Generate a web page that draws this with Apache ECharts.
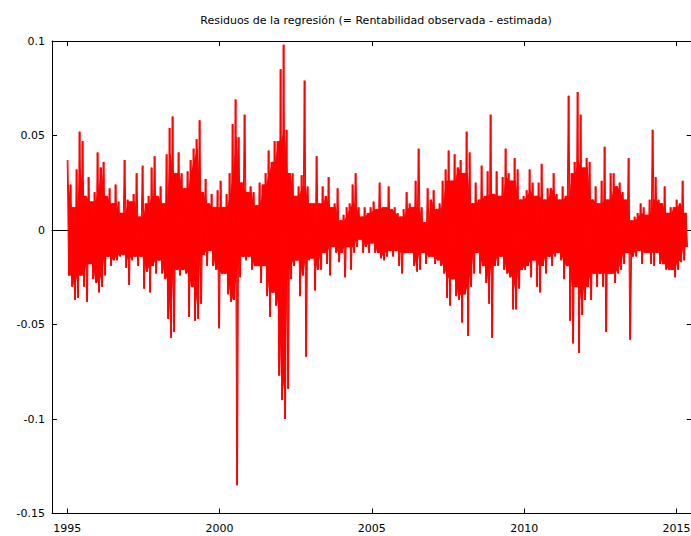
<!DOCTYPE html>
<html><head><meta charset="utf-8">
<script src="https://cdn.jsdelivr.net/npm/echarts@6/dist/echarts.min.js"></script>
<style>html,body{margin:0;padding:0;background:#fff}#c{width:691px;height:536px}</style>
</head><body><div id="c"></div>
<script>
const chartTitle = 'Residuos de la regresión (= Rentabilidad observada - estimada)';
const xTickYears = [1995, 2000, 2005, 2010, 2015];
const startYear = 1995.0;
const stepYears = 0.09849;
// upper envelope of residuals per sample
const residHigh = [
0.037,0.024,0.012,0.032,0.052,0.047,0.018,0.028,0.015,0.020,0.041,0.033,0.036,0.018,0.022,0.014,0.024,0.015,0.009,0.037,0.016,0.015,0.019,0.030,0.007,
0.034,0.014,0.018,0.033,0.039,0.018,0.023,0.014,0.040,0.054,0.060,0.030,0.041,0.030,0.022,0.031,0.037,0.043,0.048,0.058,0.020,0.027,0.014,0.019,0.012,0.021,
0.026,0.012,0.019,0.030,0.056,0.069,0.049,0.025,0.061,0.020,0.023,0.020,0.013,0.025,0.024,0.030,0.042,0.036,0.047,0.047,0.085,0.098,0.053,0.030,0.030,0.018,
0.023,0.029,0.079,0.023,0.014,0.014,0.039,0.014,0.023,0.018,0.028,0.012,0.014,0.022,0.005,0.008,0.012,0.014,0.024,0.030,0.012,0.007,0.012,0.009,0.012,0.015,0.011,0.025,
0.012,0.012,0.023,0.011,0.012,0.009,0.007,0.011,0.020,0.014,0.012,0.026,0.043,0.012,0.004,0.022,0.016,0.021,0.011,0.014,0.026,0.032,0.042,0.026,0.040,0.033,
0.037,0.030,0.052,0.041,0.014,0.025,0.016,0.034,0.018,0.031,0.061,0.019,0.031,0.018,0.028,0.043,0.030,0.026,0.038,0.032,0.016,0.018,0.021,0.032,0.025,0.018,
0.025,0.035,0.016,0.022,0.022,0.030,0.019,0.016,0.023,0.018,0.071,0.030,0.036,0.073,0.061,0.033,0.038,0.036,0.016,0.023,0.014,0.026,0.044,0.016,0.030,
0.030,0.023,0.025,0.020,0.016,0.038,0.005,0.007,0.009,0.014,0.012,0.008,0.016,0.053,0.028,0.016,0.014,0.023,0.009,0.012,0.012,0.016,0.014,0.026,0.009
];
// lower envelope of residuals per sample
const residLow = [
-0.024,-0.030,-0.037,-0.036,-0.024,-0.030,-0.038,-0.018,-0.026,-0.028,-0.033,-0.030,-0.024,-0.014,-0.019,-0.016,-0.016,-0.014,-0.013,-0.020,-0.029,-0.016,-0.014,-0.019,-0.014,
-0.031,-0.022,-0.033,-0.019,-0.023,-0.016,-0.023,-0.026,-0.047,-0.057,-0.054,-0.021,-0.024,-0.021,-0.023,-0.046,-0.030,-0.048,-0.047,-0.039,-0.013,-0.019,-0.011,-0.019,-0.021,-0.052,
-0.023,-0.023,-0.034,-0.038,-0.037,-0.135,-0.025,-0.014,-0.016,-0.014,-0.021,-0.019,-0.019,-0.028,-0.019,-0.035,-0.046,-0.033,-0.040,-0.077,-0.090,-0.100,-0.084,-0.026,-0.019,-0.016,
-0.035,-0.024,-0.067,-0.016,-0.015,-0.032,-0.021,-0.021,-0.012,-0.018,-0.024,-0.009,-0.012,-0.017,-0.012,-0.025,-0.009,-0.021,-0.012,-0.009,-0.005,-0.012,-0.009,-0.012,-0.007,-0.012,-0.012,-0.015,
-0.016,-0.014,-0.011,-0.014,-0.011,-0.019,-0.023,-0.012,-0.012,-0.012,-0.019,-0.022,-0.021,-0.012,-0.018,-0.014,-0.014,-0.018,-0.016,-0.019,-0.023,-0.036,-0.040,-0.026,-0.035,-0.037,
-0.049,-0.034,-0.056,-0.030,-0.023,-0.012,-0.023,-0.019,-0.028,-0.039,-0.057,-0.019,-0.019,-0.014,-0.021,-0.023,-0.025,-0.042,-0.042,-0.031,-0.021,-0.021,-0.019,-0.025,-0.016,-0.030,
-0.033,-0.019,-0.023,-0.014,-0.019,-0.014,-0.012,-0.016,-0.026,-0.019,-0.048,-0.060,-0.030,-0.065,-0.045,-0.037,-0.030,-0.037,-0.023,-0.030,-0.023,-0.030,-0.054,-0.023,-0.023,
-0.028,-0.023,-0.021,-0.018,-0.012,-0.058,-0.014,-0.014,-0.011,-0.018,-0.012,-0.012,-0.018,-0.019,-0.012,-0.018,-0.018,-0.021,-0.021,-0.021,-0.025,-0.021,-0.017,-0.016,-0.009
];

// Two interleaved traces of the residual envelope (offset by a quarter sample)
function buildTrace(offset) {
  const out = [];
  for (let i = 0; i < residHigh.length; i++) {
    out.push([startYear + (i + offset) * stepYears, residHigh[i]]);
    out.push([startYear + (i + offset + 0.5) * stepYears, residLow[i]]);
  }
  return out;
}
const traceA = buildTrace(0);
const traceB = buildTrace(0.25);

// Dense body: the part of the envelope shared by neighbouring samples
function nearZero3(arr, i) {
  const a = arr[Math.max(0, i - 1)], b = arr[i], c = arr[Math.min(arr.length - 1, i + 1)];
  return Math.abs(a) < Math.abs(b) ? (Math.abs(a) < Math.abs(c) ? a : c) : (Math.abs(b) < Math.abs(c) ? b : c);
}
const bodyData = [];
for (let i = 0; i < residHigh.length; i++) {
  bodyData.push([startYear + (i + 0.375) * stepYears, nearZero3(residLow, i), nearZero3(residHigh, i)]);
}

const FONT = 'DejaVu Sans';
const gridBox = {left: 52, top: 41, width: 639.7, height: 472.5};
const xMin = 1994.5, xMax = 2015.5, yMin = -0.15, yMax = 0.1;
const black = '#000';
const red = '#ff0000';
const fmtY = v => String(parseFloat(v.toFixed(2)));

const chart = echarts.init(document.getElementById('c'), null, {renderer: 'svg'});
const lineSeries = (data) => ({
  type: 'line', xAxisIndex: 0, yAxisIndex: 0, data: data,
  symbol: 'none', showSymbol: false, sampling: null, silent: true,
  lineStyle: {color: red, width: 1}, z: 4
});
chart.setOption({
  animation: false,
  backgroundColor: '#fff',
  graphic: [{
    type: 'text', x: 376, y: 20,
    style: {text: chartTitle, fontFamily: FONT, fontSize: 11, fill: black, align: 'center', verticalAlign: 'middle'}
  }],
  grid: [
    Object.assign({outerBoundsMode: 'none', containLabel: false}, gridBox),
    Object.assign({outerBoundsMode: 'none', containLabel: false}, gridBox)
  ],
  xAxis: [
    {type: 'value', gridIndex: 0, position: 'bottom', min: xMin, max: xMax,
     axisLine: {onZero: false, lineStyle: {color: black, width: 1}},
     axisTick: {inside: true, length: 5, customValues: xTickYears, lineStyle: {color: black}},
     axisLabel: {customValues: xTickYears, formatter: v => String(v), color: black, fontFamily: FONT, fontSize: 11, margin: 9},
     splitLine: {show: false}},
    {type: 'value', gridIndex: 0, position: 'top', min: xMin, max: xMax,
     axisLine: {onZero: false, lineStyle: {color: black, width: 1}},
     axisTick: {inside: true, length: 5, customValues: xTickYears, lineStyle: {color: black}},
     axisLabel: {show: false}, splitLine: {show: false}},
    {type: 'value', gridIndex: 1, min: xMin, max: xMax,
     axisLine: {onZero: true, lineStyle: {color: black, width: 1}},
     axisTick: {show: false}, axisLabel: {show: false}, splitLine: {show: false}}
  ],
  yAxis: [
    {type: 'value', gridIndex: 0, position: 'left', min: yMin, max: yMax, interval: 0.05,
     axisLine: {show: true, onZero: false, lineStyle: {color: black, width: 1}},
     axisTick: {show: true, inside: true, length: 5, lineStyle: {color: black}},
     axisLabel: {formatter: fmtY, color: black, fontFamily: FONT, fontSize: 11, margin: 7},
     splitLine: {show: false}},
    {type: 'value', gridIndex: 0, position: 'right', min: yMin, max: yMax, interval: 0.05,
     axisLine: {show: true, onZero: false, lineStyle: {color: black, width: 1}},
     axisTick: {show: true, inside: true, length: 5, lineStyle: {color: black}},
     axisLabel: {show: false}, splitLine: {show: false}},
    {type: 'value', gridIndex: 1, min: yMin, max: yMax,
     axisLine: {show: false}, axisTick: {show: false}, axisLabel: {show: false}, splitLine: {show: false}}
  ],
  series: [
    {type: 'custom', xAxisIndex: 0, yAxisIndex: 0, data: bodyData, silent: true, z: 3, clip: true,
     encode: {x: 0, y: [1, 2]},
     renderItem: function (params, api) {
       const i = params.dataIndex;
       if (i >= bodyData.length - 1) return null;
       const p = bodyData[i], q = bodyData[i + 1];
       const pts = [api.coord([p[0], p[2]]), api.coord([q[0], q[2]]), api.coord([q[0], q[1]]), api.coord([p[0], p[1]])];
       return {type: 'polygon', shape: {points: pts}, style: {fill: red, stroke: red, lineWidth: 0.5}};
     }},
    lineSeries(traceA), lineSeries(traceB)
  ]
});
</script>
</body></html>
